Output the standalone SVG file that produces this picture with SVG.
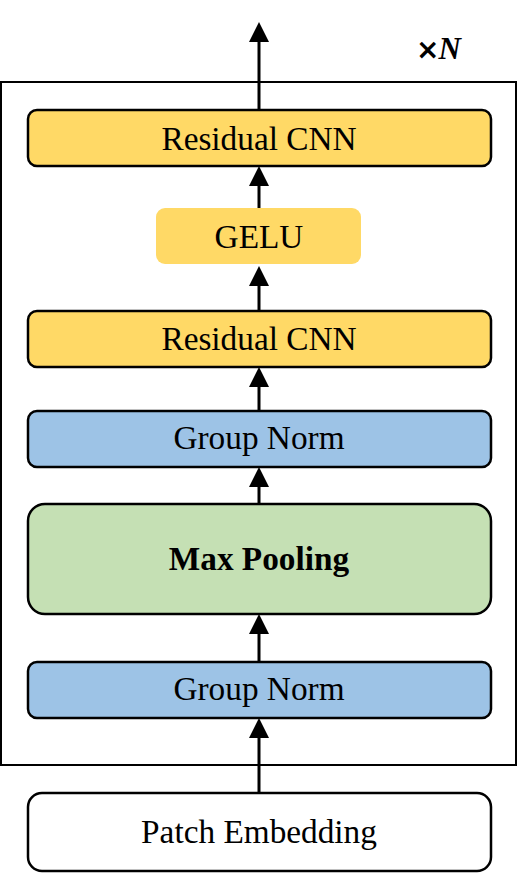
<svg xmlns="http://www.w3.org/2000/svg" width="518" height="873" viewBox="0 0 518 873">
<style>
.box{stroke:#000;stroke-width:2.5}
.y{fill:#FFD966}
.b{fill:#9DC3E6}
.g{fill:#C5E0B4}
.w{fill:#FFFFFF}
.t{font-family:"Liberation Serif","Times New Roman",serif;font-size:33.3px;fill:#000;text-anchor:middle}
.ln{stroke:#000;stroke-width:3;fill:none}
.hd{fill:#000}
</style>
<rect width="518" height="873" fill="#fff"/>
<rect id="frame" x="1" y="82" width="515" height="683" fill="none" stroke="#000" stroke-width="2"/>
<text id="repeat" x="416" y="59" fill="#000" font-weight="bold"><tspan font-family="DejaVu Sans, sans-serif" font-size="28">×</tspan><tspan font-family="Liberation Serif, serif" font-style="italic" font-size="31" dx="-1">N</tspan></text>
<g id="connectors">
<line class="ln" x1="259" y1="109" x2="259" y2="40"/><polygon class="hd" points="249,42 259,22 269,42"/>
<line class="ln" x1="259" y1="208" x2="259" y2="184"/><polygon class="hd" points="249,186 259,166 269,186"/>
<line class="ln" x1="259" y1="310" x2="259" y2="284"/><polygon class="hd" points="249,286 259,266 269,286"/>
<line class="ln" x1="259" y1="410" x2="259" y2="385"/><polygon class="hd" points="249,387 259,367 269,387"/>
<line class="ln" x1="259" y1="503" x2="259" y2="485"/><polygon class="hd" points="249,487 259,467 269,487"/>
<line class="ln" x1="259" y1="662" x2="259" y2="632"/><polygon class="hd" points="249,634 259,614 269,634"/>
<line class="ln" x1="259" y1="792" x2="259" y2="736"/><polygon class="hd" points="249,738 259,718 269,738"/>
</g>
<g id="residual-cnn-top"><rect class="box y" x="28" y="110" width="463" height="56" rx="9"/><text class="t" x="259" y="150">Residual CNN</text></g>
<g id="gelu"><rect class="y" x="156" y="208" width="205" height="56" rx="9"/><text class="t" x="259" y="248">GELU</text></g>
<g id="residual-cnn-bottom"><rect class="box y" x="28" y="311" width="463" height="56" rx="9"/><text class="t" x="259" y="350">Residual CNN</text></g>
<g id="group-norm-top"><rect class="box b" x="28" y="411" width="463" height="56" rx="9"/><text class="t" x="259" y="449">Group Norm</text></g>
<g id="max-pooling"><rect class="box g" x="28" y="504" width="463" height="110" rx="17"/><text class="t" x="259" y="570" font-weight="bold">Max Pooling</text></g>
<g id="group-norm-bottom"><rect class="box b" x="28" y="662" width="463" height="56" rx="9"/><text class="t" x="259" y="700">Group Norm</text></g>
<g id="patch-embedding"><rect class="box w" x="28" y="793" width="463" height="78" rx="14"/><text class="t" x="259" y="843">Patch Embedding</text></g>
</svg>
